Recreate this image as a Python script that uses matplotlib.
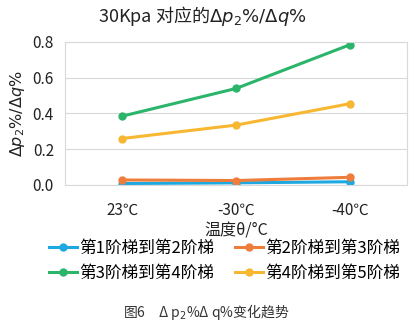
import numpy as np
import matplotlib.pyplot as plt

plt.rcParams['font.family'] = ['Noto Sans CJK SC', 'DejaVu Sans']
plt.rcParams['mathtext.fontset'] = 'dejavusans'

# Data
temps = ['23℃', '-30℃', '-40℃']
names = ['第1阶梯到第2阶梯', '第2阶梯到第3阶梯', '第3阶梯到第4阶梯', '第4阶梯到第5阶梯']
s12 = [0.008, 0.012, 0.018]
s23 = [0.028, 0.025, 0.043]
s34 = [0.385, 0.540, 0.785]
s45 = [0.260, 0.335, 0.455]
colors = ['#1EA8E0', '#EE7D3B', '#2AB56A', '#F7B731']

fig = plt.figure(figsize=(4.12, 3.28), dpi=100)
ax = fig.add_axes([0.158, 0.436, 0.83, 0.436])

x = np.arange(len(temps))
lines = []
for vals, name, c in zip([s12, s23, s34, s45], names, colors):
    l, = ax.plot(x, vals, color=c, lw=2.2, marker='o', ms=5, label=name)
    lines.append(l)

ax.set_xlim(-0.5, 2.5)
ax.set_ylim(0, 0.8)
ax.set_yticks([0.0, 0.2, 0.4, 0.6, 0.8])
ax.set_yticklabels(['0.0', '0.2', '0.4', '0.6', '0.8'])
ax.set_xticks(x)
ax.set_xticklabels(temps)
ax.grid(axis='y', color='#d9d9d9', lw=0.8)
ax.set_axisbelow(True)
for s in ax.spines.values():
    s.set_color('#d9d9d9')
    s.set_linewidth(0.8)
ax.tick_params(length=0, labelsize=11, colors='#222222')
ax.tick_params(axis='x', pad=12)
ax.tick_params(axis='y', pad=8)

fig.text(0.49, 0.952, r'30Kpa 对应的$\Delta p_2\%/\Delta q\%$', ha='center', va='center',
         fontsize=13, color='#222222')
ax.set_ylabel(r'$\Delta p_2\%/\Delta q\%$', fontsize=11.5, color='#222222', labelpad=4)
ax.set_xlabel('温度θ/°C', fontsize=11.5, color='#222222', labelpad=3)

order = [0, 2, 1, 3]
fig.legend([lines[i] for i in order], [names[i] for i in order],
           loc='center', bbox_to_anchor=(0.545, 0.205), ncol=2, frameon=False,
           fontsize=12, handlelength=1.7, columnspacing=1.2, handletextpad=0.15,
           labelspacing=0.5)

fig.text(0.5, 0.048, '图6　Δ p$_2$%Δ q%变化趋势', ha='center', va='center',
         fontsize=10, color='#333333')

fig.savefig('out.png', dpi=100, facecolor='white')
